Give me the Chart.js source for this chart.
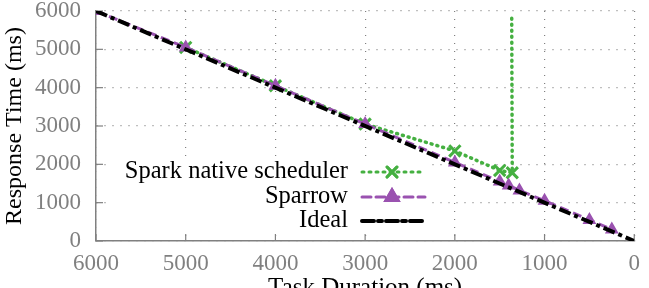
<!DOCTYPE html>
<html>
<head>
<meta charset="utf-8">
<script src="https://cdn.jsdelivr.net/npm/chart.js@4"></script>
<style>
  html, body { margin: 0; padding: 0; background: #fff; }
  #wrap { width: 649px; height: 288px; }
</style>
</head>
<body>
<div id="wrap"><canvas id="chart"></canvas></div>
<script>
const xTicks = [6000, 5000, 4000, 3000, 2000, 1000, 0];
const yTicks = [0, 1000, 2000, 3000, 4000, 5000, 6000];

const sparkX = [5000, 4000, 3000, 2000, 1500, 1360, 1366];
const sparkY = [5050, 4050, 3050, 2350, 1840, 1780, 5900];

const sparrowX = [6000, 5000, 4000, 3000, 2000, 1500, 1400, 1280, 1000, 500, 250];
const sparrowY = [6000, 5050, 4050, 3050, 2050, 1550, 1450, 1320, 1050, 550, 300];

const idealX = [6000, 0];
const idealY = [6000, 0];

const labels = ["Spark native scheduler", "Sparrow", "Ideal"];

function pts(xs, ys) {
  return xs.map(function (x, i) { return { x: x, y: ys[i] }; });
}

const green = "#45b041";
const purple = "#9a52b0";
const grey = "#808080";
const serif = "'Liberation Serif', 'DejaVu Serif', serif";

// ticks pointing into the plot + legend box in the lower left
const extras = {
  id: "extras",
  beforeDatasetsDraw(chart) {
    const ctx = chart.ctx;
    const a = chart.chartArea;
    const xs = chart.scales.x, ys = chart.scales.y;
    ctx.save();
    ctx.strokeStyle = grey;
    ctx.lineWidth = 1.2;
    xTicks.forEach(function (v) {
      const px = xs.getPixelForValue(v);
      ctx.beginPath();
      ctx.moveTo(px, a.bottom);
      ctx.lineTo(px, a.bottom - 7);
      ctx.stroke();
    });
    yTicks.forEach(function (v) {
      const py = ys.getPixelForValue(v);
      ctx.beginPath();
      ctx.moveTo(a.left, py);
      ctx.lineTo(a.left + 7, py);
      ctx.stroke();
    });
    // legend background
    ctx.fillStyle = "#fff";
    ctx.fillRect(110, 156, 322, 76);
    ctx.restore();
  },
  afterDatasetsDraw(chart) {
    const ctx = chart.ctx;
    const rows = [
      { y: 172, color: green, dash: [2, 5], marker: "crossRot" },
      { y: 197, color: purple, dash: [9, 5], marker: "triangle" },
      { y: 221, color: "#000", dash: [12, 4, 4, 4], marker: null }
    ];
    ctx.save();
    ctx.font = "24.5px " + serif;
    ctx.textAlign = "right";
    ctx.textBaseline = "middle";
    rows.forEach(function (r, i) {
      ctx.fillStyle = "#000";
      ctx.fillText(labels[i], 348, r.y);
      ctx.strokeStyle = r.color;
      ctx.lineWidth = r.marker ? 3 : 4;
      ctx.lineCap = "round";
      ctx.setLineDash(r.dash);
      ctx.beginPath();
      ctx.moveTo(362, r.y);
      ctx.lineTo(425, r.y);
      ctx.stroke();
      ctx.setLineDash([]);
      if (r.marker) {
        Chart.helpers.drawPoint(ctx, {
          pointStyle: r.marker, radius: 7, rotation: 0, borderWidth: 3
        }, 392, r.y);
        ctx.fillStyle = r.color;
        if (r.marker === "triangle") ctx.fill();
        ctx.stroke();
      }
    });
    ctx.restore();
  }
};

new Chart(document.getElementById("chart"), {
  type: "line",
  data: {
    datasets: [
      {
        label: labels[2],
        data: pts(idealX, idealY),
        borderColor: "#000",
        borderWidth: 4,
        borderDash: [12, 4, 4, 4],
        pointRadius: 0,
        order: 0
      },
      {
        label: labels[1],
        data: pts(sparrowX, sparrowY),
        borderColor: purple,
        backgroundColor: purple,
        borderWidth: 3,
        borderDash: [9, 5],
        pointStyle: "triangle",
        pointRadius: 6,
        pointBorderWidth: 2,
        order: 1
      },
      {
        label: labels[0],
        data: pts(sparkX, sparkY),
        borderColor: green,
        backgroundColor: green,
        borderWidth: 3.5,
        borderDash: [1, 5],
        borderCapStyle: "round",
        pointStyle: "crossRot",
        pointRadius: sparkX.map(function (x, i) { return i === sparkX.length - 1 ? 0 : 8; }),
        pointBorderWidth: 3,
        order: 2
      }
    ]
  },
  options: {
    responsive: true,
    maintainAspectRatio: false,
    animation: false,
    layout: { padding: { top: 0, right: 14, left: 0, bottom: 0 } },
    plugins: { legend: { display: false }, tooltip: { enabled: false } },
    scales: {
      x: {
        type: "linear",
        reverse: true,
        min: 0,
        max: 6000,
        afterFit: function (s) { s.height = 47; },
        afterBuildTicks: function (s) { s.ticks = xTicks.map(function (v) { return { value: v }; }); },
        grid: { color: grey, lineWidth: 1.2, drawTicks: false },
        border: { display: true, color: grey, width: 1.5, dash: [1, 7] },
        ticks: {
          padding: 9, color: grey, font: { family: serif, size: 23 },
          callback: function (v) { return String(v); }
        },
        title: {
          display: true,
          text: "Task Duration (ms)",
          color: "#000",
          font: { family: serif, size: 25 },
          padding: { top: 0, bottom: -15 }
        }
      },
      y: {
        min: 0,
        max: 6000,
        afterFit: function (s) { s.width = 96; },
        afterBuildTicks: function (s) { s.ticks = yTicks.map(function (v) { return { value: v }; }); },
        grid: { color: grey, lineWidth: 1.2, drawTicks: true, tickLength: 15, tickColor: "rgba(0,0,0,0)" },
        border: { display: true, color: grey, width: 1.5, dash: [1, 7] },
        ticks: {
          padding: 0, color: grey, font: { family: serif, size: 23, lineHeight: 0.85 },
          callback: function (v) { return String(v); }
        },
        title: {
          display: true,
          text: "Response Time (ms)",
          color: "#000",
          font: { family: serif, size: 24 },
          padding: { top: 0, bottom: 0 }
        }
      }
    }
  },
  plugins: [extras]
});
</script>
</body>
</html>
